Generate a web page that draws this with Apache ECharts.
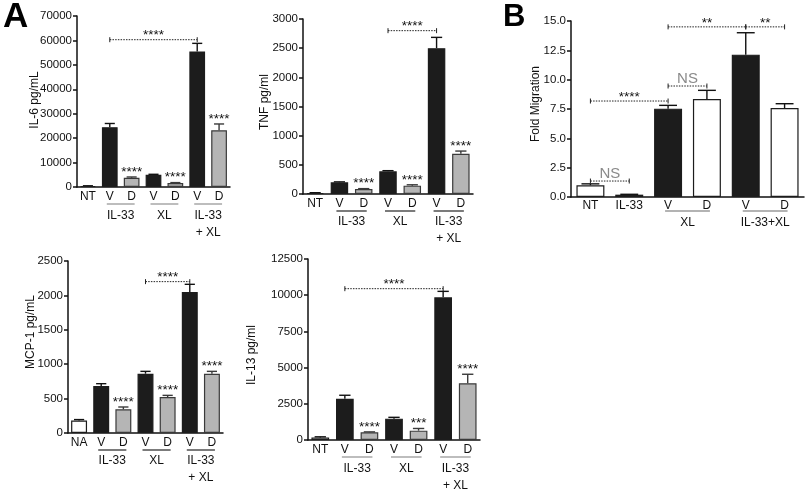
<!DOCTYPE html>
<html><head><meta charset="utf-8">
<script src="https://cdn.jsdelivr.net/npm/echarts@6/dist/echarts.min.js"></script>
<style>html,body{margin:0;padding:0;background:#fff}#c{width:812px;height:494px}</style>
</head><body><div id="c"></div>
<script>
// ---------- categories ----------
const catsA = ['NT', 'V', 'D', 'V', 'D', 'V', 'D'];
const catsMCP = ['NA', 'V', 'D', 'V', 'D', 'V', 'D'];
const catsB = ['NT', 'IL-33', 'V', 'D', 'V', 'D'];
const groupLabelsA = ['IL-33', 'XL', 'IL-33\n+ XL'];
const groupStartA = [1, 3, 5];
const groupLabelsB = ['XL', 'IL-33+XL'];
const groupStartB = [2, 4];
const fillA = ['white', 'black', 'gray', 'black', 'gray', 'black', 'gray'];
const fillB = ['white', 'black', 'black', 'white', 'black', 'white'];

// ---------- IL-6 ----------
const il6Values = [400, 24500, 3800, 5000, 1600, 55500, 23200];
const il6Errors = [100, 1500, 300, 200, 200, 3300, 2600];
const il6Stars = ['', '', '****', '', '****', '', '****'];
const il6Brackets = [[1, 5, 60300, '****']];
const il6Axis = [0, 70000, 10000];

// ---------- TNF ----------
const tnfValues = [18, 200, 86, 388, 143, 2500, 690];
const tnfErrors = [4, 8, 6, 12, 15, 185, 46];
const tnfStars = ['', '', '****', '', '****', '', '****'];
const tnfBrackets = [[3, 5, 2800, '****']];
const tnfAxis = [0, 3000, 500];

// ---------- MCP-1 ----------
const mcpValues = [180, 683, 344, 862, 523, 2049, 862];
const mcpErrors = [15, 34, 34, 34, 24, 112, 34];
const mcpStars = ['', '', '****', '', '****', '', '****'];
const mcpBrackets = [[3, 5, 2200, '****']];
const mcpAxis = [0, 2500, 500];

// ---------- IL-13 ----------
const il13Values = [180, 2850, 530, 1476, 646, 9850, 3920];
const il13Errors = [40, 240, 30, 90, 150, 415, 620];
const il13Stars = ['', '', '****', '', '***', '', '****'];
const il13Brackets = [[1, 5, 10450, '****']];
const il13Axis = [0, 12500, 2500];

// ---------- Fold migration (B) ----------
const migValues = [1.0, 0.2, 7.53, 8.35, 12.13, 7.58];
const migErrors = [0.12, 0.03, 0.28, 0.74, 1.87, 0.37];
const migStars = ['', '', '', '', '', ''];
const migBrackets = [[0, 1, 1.36, 'NS'], [0, 2, 8.18, '****'], [2, 3, 9.46, 'NS'], [2, 4, 14.5, '**'], [4, 5, 14.5, '**']];
const migAxis = [0, 15, 2.5];

const FONT = 'Liberation Sans, Arial, Helvetica, sans-serif';
const COLORS = { white: '#ffffff', black: '#1c1c1c', gray: '#b5b5b5' };
const BORDERS = { white: '#1c1c1c', black: '#1c1c1c', gray: '#3a3a3a' };

const panels = [
  { grid: { left: 77, top: 16, width: 153, height: 171 }, cats: catsA, vals: il6Values, errs: il6Errors, stars: il6Stars, fills: fillA,
    brackets: il6Brackets, axis: il6Axis, name: 'IL-6 pg/mL', nameAt: [35, 100], gl: groupLabelsA, gs: groupStartA, gcol: '#9a9a9a', lblMargin: 4, lineOff: 17, txtOff: 20 },
  { grid: { left: 303, top: 19, width: 170, height: 175 }, cats: catsA, vals: tnfValues, errs: tnfErrors, stars: tnfStars, fills: fillA,
    brackets: tnfBrackets, axis: tnfAxis, name: 'TNF pg/ml', nameAt: [265, 102], gl: groupLabelsA, gs: groupStartA, gcol: '#333333', lblMargin: 4, lineOff: 17, txtOff: 19 },
  { grid: { left: 571, top: 21, width: 233, height: 176 }, cats: catsB, vals: migValues, errs: migErrors, stars: migStars, fills: fillB,
    brackets: migBrackets, axis: migAxis, name: 'Fold Migration', nameAt: [536, 104], gl: groupLabelsB, gs: groupStartB, gcol: '#9a9a9a', lblMargin: 3, lineOff: 14, txtOff: 17, fixed: 1 },
  { grid: { left: 68, top: 261, width: 155, height: 172 }, cats: catsMCP, vals: mcpValues, errs: mcpErrors, stars: mcpStars, fills: fillA,
    brackets: mcpBrackets, axis: mcpAxis, name: 'MCP-1 pg/mL', nameAt: [31, 332], gl: groupLabelsA, gs: groupStartA, gcol: '#333333', lblMargin: 4, lineOff: 17, txtOff: 19 },
  { grid: { left: 308, top: 259, width: 172, height: 181 }, cats: catsA, vals: il13Values, errs: il13Errors, stars: il13Stars, fills: fillA,
    brackets: il13Brackets, axis: il13Axis, name: 'IL-13 pg/ml', nameAt: [252, 355], gl: groupLabelsA, gs: groupStartA, gcol: '#9a9a9a', lblMargin: 4, lineOff: 17, txtOff: 20 }
];

const grids = [], xAxes = [], yAxes = [], series = [], graphics = [];

panels.forEach((p, k) => {
  grids.push(Object.assign({ containLabel: false }, p.grid));
  xAxes.push({
    type: 'category', gridIndex: k, data: p.cats,
    axisLine: { lineStyle: { color: '#111', width: 1.5 } },
    axisTick: { show: false },
    axisLabel: { color: '#111', fontSize: 12, fontFamily: FONT, margin: p.lblMargin, interval: 0 }
  });
  yAxes.push({
    type: 'value', gridIndex: k, min: p.axis[0], max: p.axis[1], interval: p.axis[2],
    axisLine: { show: true, lineStyle: { color: '#111', width: 1.5 } },
    axisTick: { show: true, length: 4, lineStyle: { color: '#111', width: 1.5 } },
    splitLine: { show: false },
    axisLabel: { color: '#111', fontSize: 11.5, fontFamily: FONT, margin: 5,
      formatter: p.fixed ? (v => v.toFixed(p.fixed)) : (v => String(v)) }
  });
  graphics.push({ type: 'text', x: p.nameAt[0], y: p.nameAt[1], rotation: Math.PI / 2,
    style: { text: p.name, align: 'center', verticalAlign: 'middle', fill: '#111', fontSize: 12, fontFamily: FONT } });

  // bars
  series.push({
    type: 'bar', xAxisIndex: k, yAxisIndex: k, barWidth: '72%', silent: true, animation: false,
    data: p.vals.map((v, i) => ({ value: v, itemStyle: { color: COLORS[p.fills[i]], borderColor: BORDERS[p.fills[i]], borderWidth: 1.2 } }))
  });

  // error bars + stars
  const stars = p.stars, fills = p.fills;
  series.push({
    type: 'custom', xAxisIndex: k, yAxisIndex: k, silent: true, animation: false, clip: false,
    encode: { x: 0, y: 1 },
    data: p.vals.map((v, i) => [i, v, p.errs[i]]),
    renderItem: (params, api) => {
      const i = api.value(0), v = api.value(1), e = api.value(2);
      const p0 = api.coord([i, v]), p1 = api.coord([i, v + e]);
      const band = api.size([1, 0])[0];
      const hw = band * 0.72 * 0.32;
      const col = fills[params.dataIndex] === 'gray' ? '#3a3a3a' : '#111';
      const ch = [
        { type: 'line', shape: { x1: p0[0], y1: p0[1], x2: p1[0], y2: p1[1] }, style: { stroke: col, lineWidth: 1.4 } },
        { type: 'line', shape: { x1: p1[0] - hw, y1: p1[1], x2: p1[0] + hw, y2: p1[1] }, style: { stroke: col, lineWidth: 1.4 } }
      ];
      const s = stars[params.dataIndex];
      if (s) ch.push({ type: 'text', style: { text: s, x: p1[0], y: p1[1] + 2, align: 'center', verticalAlign: 'bottom', fill: '#111', fontSize: 13.5, fontFamily: FONT } });
      return { type: 'group', children: ch };
    }
  });

  // significance brackets
  const br = p.brackets;
  series.push({
    type: 'custom', xAxisIndex: k, yAxisIndex: k, silent: true, animation: false, clip: false,
    encode: { x: [0, 1], y: 2 },
    data: br.map(b => [b[0], b[1], b[2]]),
    renderItem: (params, api) => {
      const a = api.coord([api.value(0), api.value(2)]), b = api.coord([api.value(1), api.value(2)]);
      const t = br[params.dataIndex][3];
      const ns = t === 'NS';
      return { type: 'group', children: [
        { type: 'line', shape: { x1: a[0], y1: a[1], x2: b[0], y2: b[1] }, style: { stroke: '#222', lineWidth: 1, lineDash: [1.5, 1.2] } },
        { type: 'line', shape: { x1: a[0], y1: a[1] - 2.5, x2: a[0], y2: a[1] + 2.5 }, style: { stroke: '#222', lineWidth: 1 } },
        { type: 'line', shape: { x1: b[0], y1: b[1] - 2.5, x2: b[0], y2: b[1] + 2.5 }, style: { stroke: '#222', lineWidth: 1 } },
        { type: 'text', style: { text: t, x: (a[0] + b[0]) / 2, y: a[1] + (ns ? 0 : 3), align: 'center', verticalAlign: 'bottom',
          fill: ns ? '#8a8a8a' : '#111', fontSize: ns ? 15 : 13.5, fontFamily: FONT } }
      ] };
    }
  });

  // group labels under the axis
  const gl = p.gl, gcol = p.gcol, lineOff = p.lineOff, txtOff = p.txtOff;
  series.push({
    type: 'custom', xAxisIndex: k, yAxisIndex: k, silent: true, animation: false, clip: false,
    encode: { x: [0, 1], y: 2 },
    data: p.gs.map(s => [s, s + 1, 0]),
    renderItem: (params, api) => {
      const a = api.coord([api.value(0), 0]), b = api.coord([api.value(1), 0]);
      return { type: 'group', children: [
        { type: 'line', shape: { x1: a[0] - 3, y1: a[1] + lineOff, x2: b[0] + 3, y2: a[1] + lineOff }, style: { stroke: gcol, lineWidth: 1.3 } },
        { type: 'text', style: { text: gl[params.dataIndex], x: (a[0] + b[0]) / 2, y: a[1] + txtOff, align: 'center', verticalAlign: 'top',
          fill: '#111', fontSize: 12, fontFamily: FONT, lineHeight: 17 } }
      ] };
    }
  });
});

graphics.push(
  { type: 'text', left: 3, top: 0, style: { text: 'A', fontSize: 35, fontWeight: 'bold', fill: '#000', fontFamily: FONT } },
  { type: 'text', left: 503, top: 2, style: { text: 'B', fontSize: 31, fontWeight: 'bold', fill: '#000', fontFamily: FONT } }
);

const chart = echarts.init(document.getElementById('c'), null, { renderer: 'canvas' });
chart.setOption({
  animation: false,
  backgroundColor: '#ffffff',
  textStyle: { fontFamily: FONT },
  grid: grids, xAxis: xAxes, yAxis: yAxes, series: series,
  graphic: graphics
});
</script>
</body></html>
